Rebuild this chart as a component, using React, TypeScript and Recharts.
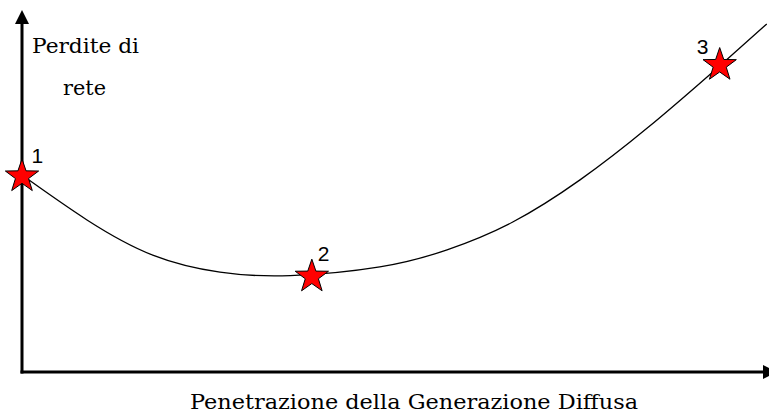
import React from 'react';
import { ComposedChart, Line, Scatter, XAxis, YAxis, Label } from 'recharts';

// curve: penetration (x) vs network losses (y), arbitrary units 0..100
const penetration = [0, 8.7, 17.5, 26.5, 35.9, 47.9, 56.9, 65.7, 74.7, 83.7, 93.2, 99.7];
const losses = [56.6, 43.7, 33.6, 28.7, 27.7, 30.2, 35.1, 43.1, 55.2, 70.1, 87.6, 100];

// highlighted points
const starX = [0, 38.8, 93.4];
const starY = [56.2, 27.4, 88.2];
const starLabels = ['1', '2', '3'];

const yTitle = ['Perdite di', 'rete'];
const xTitle = 'Penetrazione della Generazione Diffusa';

const curveData = penetration.map((x, i) => ({ x, y: losses[i] }));
const starData = starX.map((x, i) => ({ x, y: starY[i], label: starLabels[i] }));

const labelOffsets: Record<string, [number, number]> = { '1': [9.5, -13.5], '2': [6, -16], '3': [-23, -11] };
const serif = '"DejaVu Serif", serif';

const starPoints = (cx: number, cy: number, R: number, r: number) => {
    const pts: string[] = [];
    for (let i = 0; i < 10; i++) {
        const rad = i % 2 === 0 ? R : r;
        const a = -Math.PI / 2 + (i * Math.PI) / 5;
        pts.push(`${cx + rad * Math.cos(a)},${cy + rad * Math.sin(a)}`);
    }
    return pts.join(' ');
};

const StarShape = (props: any) => {
    const { cx, cy, payload } = props;
    const off = labelOffsets[payload.label] || [8, -12];
    return (
        <g>
            <polygon points={starPoints(cx, cy, 17.5, 6.9)} fill="#ff0000" stroke="#000" strokeWidth={1} />
            <text x={cx + off[0]} y={cy + off[1]} fontFamily='"Liberation Sans", Arial, sans-serif' fontSize={21} fill="#000">
                {payload.label}
            </text>
        </g>
    );
};

const YTitle = (props: any) => {
    const vb = props.viewBox || { x: 0, y: 24, width: 22 };
    const left = vb.x + vb.width;
    return (
        <g fontFamily={serif} fontSize={20} fill="#000">
            <text x={left + 10} y={vb.y + 29} textLength={107} lengthAdjust="spacingAndGlyphs">{yTitle[0]}</text>
            <text x={left + 41} y={vb.y + 71} textLength={43} lengthAdjust="spacingAndGlyphs">{yTitle[1]}</text>
        </g>
    );
};

const XTitle = (props: any) => {
    const vb = props.viewBox || { x: 22, y: 372 };
    return (
        <text x={190} y={vb.y + 37} fontFamily={serif} fontSize={20} fill="#000" textLength={448} lengthAdjust="spacingAndGlyphs">
            {xTitle}
        </text>
    );
};

export default function App() {
    return (
        <div style={{ position: 'absolute', left: 0, top: 0, width: 769, height: 415, background: '#fff' }}>
            <svg width={0} height={0} style={{ position: 'absolute' }}>
                <defs>
                    <marker id="arrowHead" viewBox="0 0 14 14" markerWidth={14} markerHeight={14} refX={0} refY={7}
                        markerUnits="userSpaceOnUse" orient="auto-start-reverse">
                        <path d="M0,0 L14,7 L0,14 z" fill="#000" />
                    </marker>
                    <marker id="arrowRight" viewBox="0 0 14 14" markerWidth={14} markerHeight={14} refX={6} refY={7}
                        markerUnits="userSpaceOnUse" orient="auto">
                        <path d="M0,0 L14,7 L0,14 z" fill="#000" />
                    </marker>
                </defs>
            </svg>
            <ComposedChart width={769} height={415} margin={{ top: 24, right: 0, left: 0, bottom: 0 }}>
                <XAxis dataKey="x" type="number" domain={[0, 100]} tick={false} tickLine={false} height={43}
                    axisLine={{ stroke: '#000', strokeWidth: 3, strokeLinecap: 'square', markerEnd: 'url(#arrowRight)' }}>
                    <Label content={<XTitle />} />
                </XAxis>
                <YAxis dataKey="y" type="number" domain={[0, 100]} tick={false} tickLine={false} width={22}
                    axisLine={{ stroke: '#000', strokeWidth: 3, strokeLinecap: 'square', markerStart: 'url(#arrowHead)' }}>
                    <Label content={<YTitle />} />
                </YAxis>
                <Line data={curveData} dataKey="y" type="natural" stroke="#000" strokeWidth={1.3} dot={false}
                    activeDot={false} isAnimationActive={false} />
                <Scatter data={starData} dataKey="y" shape={<StarShape />} isAnimationActive={false} />
            </ComposedChart>
        </div>
    );
}
